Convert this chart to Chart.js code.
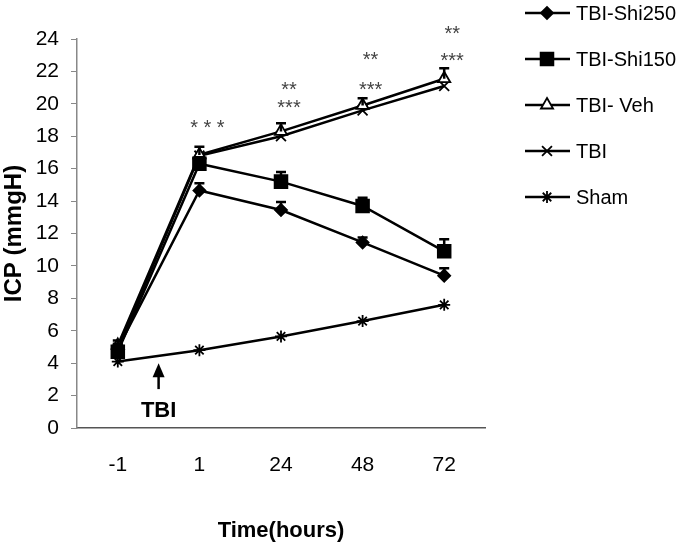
<!DOCTYPE html>
<html>
<head>
<meta charset="utf-8">
<script src="https://cdn.jsdelivr.net/npm/chart.js@4/dist/chart.umd.min.js"></script>
<style>
  html, body { margin: 0; padding: 0; background: #fff; }
  #wrap { width: 678px; height: 546px; position: relative; }
</style>
</head>
<body>
<div id="wrap"><canvas id="c" width="678" height="546"></canvas></div>
<script>
// ---- data ----
const categories = ['-1', '1', '24', '48', '72'];
const seriesNames = ['TBI-Shi250', 'TBI-Shi150', 'TBI- Veh', 'TBI', 'Sham'];
const shi250 = [4.9, 14.65, 13.45, 11.45, 9.4];
const shi150 = [4.7, 16.3, 15.2, 13.7, 10.9];
const veh    = [5.1, 16.85, 18.3, 19.9, 21.55];
const tbi    = [4.9, 16.8, 18.0, 19.6, 21.1];
const sham   = [4.1, 4.8, 5.65, 6.6, 7.6];
const shi250Err = [0.3, 0.45, 0.5, 0.3, 0.45];
const shi150Err = [0.3, 0.4, 0.6, 0.5, 0.75];
const vehErr    = [0.3, 0.5, 0.5, 0.45, 0.65];
const yTicks = [0, 2, 4, 6, 8, 10, 12, 14, 16, 18, 20, 22, 24];
// significance marks: category, value level, text
const sigCategories = ['1', '24', '24', '48', '48', '72', '72'];
const sigValues     = [18.75, 21.1, 19.95, 22.9, 21.1, 24.55, 22.85];
const sigTexts      = ['* * *', '**', '***', '**', '***', '**', '***'];
const eventLabel = 'TBI';

const FONT = 'Arial, "Liberation Sans", sans-serif';

const errorBars = {
  id: 'errorBars',
  afterDatasetsDraw(chart) {
    const ctx = chart.ctx, y = chart.scales.y;
    ctx.save();
    ctx.strokeStyle = '#000';
    ctx.lineWidth = 2.5;
    chart.data.datasets.forEach((ds, i) => {
      if (!ds.err) return;
      const meta = chart.getDatasetMeta(i);
      meta.data.forEach((pt, j) => {
        const top = y.getPixelForValue(ds.data[j] + ds.err[j]);
        ctx.beginPath();
        ctx.moveTo(pt.x, pt.y);
        ctx.lineTo(pt.x, top);
        ctx.moveTo(pt.x - 5, top);
        ctx.lineTo(pt.x + 5, top);
        ctx.stroke();
      });
    });
    ctx.restore();
  }
};

const annotations = {
  id: 'annotations',
  afterDraw(chart) {
    const ctx = chart.ctx, x = chart.scales.x, y = chart.scales.y;
    ctx.save();
    // significance asterisks
    ctx.fillStyle = '#444';
    ctx.font = '20px ' + FONT;
    ctx.textAlign = 'center';
    ctx.textBaseline = 'middle';
    sigTexts.forEach((t, i) => {
      const cx = x.getPixelForValue(categories.indexOf(sigCategories[i])) + 8;
      const cy = y.getPixelForValue(sigValues[i]) + 4;
      ctx.fillText(t, cx, cy);
    });
    // TBI arrow
    const ax = (x.getPixelForValue(0) + x.getPixelForValue(1)) / 2;
    const tipY = y.getPixelForValue(4.0);
    const baseY = y.getPixelForValue(2.4);
    ctx.strokeStyle = '#000';
    ctx.fillStyle = '#000';
    ctx.lineWidth = 2.5;
    ctx.beginPath();
    ctx.moveTo(ax, tipY + 8);
    ctx.lineTo(ax, baseY);
    ctx.stroke();
    ctx.beginPath();
    ctx.moveTo(ax, tipY);
    ctx.lineTo(ax - 6, tipY + 14);
    ctx.lineTo(ax + 6, tipY + 14);
    ctx.closePath();
    ctx.fill();
    ctx.font = 'bold 22px ' + FONT;
    ctx.fillText(eventLabel, ax, y.getPixelForValue(1.05));
    // legend
    const lx0 = 525, lx1 = 570, mx = 547;
    chart.data.datasets.forEach((ds, i) => {
      const ly = 13 + i * 46;
      ctx.strokeStyle = '#000';
      ctx.lineWidth = 2.5;
      ctx.beginPath();
      ctx.moveTo(lx0, ly);
      ctx.lineTo(lx1, ly);
      ctx.stroke();
      ctx.fillStyle = ds.pointBackgroundColor;
      ctx.strokeStyle = '#000';
      ctx.lineWidth = ds.pointBorderWidth;
      Chart.helpers.drawPoint(ctx, {pointStyle: ds.pointStyle, radius: ds.pointRadius, borderWidth: ds.pointBorderWidth}, mx, ly);
      ctx.fillStyle = '#000';
      ctx.font = '20px ' + FONT;
      ctx.textAlign = 'left';
      ctx.textBaseline = 'middle';
      ctx.fillText(ds.label, 576, ly + 1);
    });
    ctx.restore();
  }
};

function mk(label, data, style, r, fill, err) {
  return {
    label, data, err,
    borderColor: '#000',
    borderWidth: 2.5,
    pointStyle: style,
    pointRadius: r,
    pointHoverRadius: r,
    pointBackgroundColor: fill,
    pointBorderColor: '#000',
    pointBorderWidth: 1.8,
    tension: 0,
    fill: false
  };
}

new Chart(document.getElementById('c'), {
  type: 'line',
  data: {
    labels: categories,
    datasets: [
      mk(seriesNames[0], shi250, 'rectRot', 6, '#000', shi250Err),
      mk(seriesNames[1], shi150, 'rect', 9, '#000', shi150Err),
      mk(seriesNames[2], veh, 'triangle', 7, '#fff', vehErr),
      mk(seriesNames[3], tbi, 'crossRot', 7, '#000', null),
      mk(seriesNames[4], sham, 'star', 6, '#000', null)
    ]
  },
  options: {
    responsive: false,
    animation: false,
    layout: { padding: { top: 39, right: 193, left: 0, bottom: 0 } },
    plugins: { legend: { display: false }, tooltip: { enabled: false } },
    scales: {
      x: {
        type: 'category',
        offset: true,
        afterFit(s) { s.height = 118; },
        grid: { display: false, drawTicks: false },
        border: { display: true, color: '#555', width: 1.5 },
        ticks: { color: '#000', font: { size: 21, family: FONT }, padding: 25 },
        title: { display: true, text: 'Time(hours)', color: '#000',
                 font: { size: 22, weight: 'bold', family: FONT }, padding: { top: 0, bottom: 2 } }
      },
      y: {
        min: 0, max: 24,
        afterFit(s) { s.width = 77; },
        afterBuildTicks(s) { s.ticks = yTicks.map(v => ({ value: v })); },
        grid: { drawOnChartArea: false, drawTicks: true, tickLength: 6, color: '#888' },
        border: { display: true, color: '#888', width: 1.5 },
        ticks: { color: '#000', font: { size: 21, family: FONT }, padding: 12 },
        title: { display: true, text: 'ICP (mmgH)', color: '#000',
                 font: { size: 24, weight: 'bold', family: FONT }, padding: { top: 0, bottom: 0 } }
      }
    }
  },
  plugins: [errorBars, annotations]
});
</script>
</body>
</html>
